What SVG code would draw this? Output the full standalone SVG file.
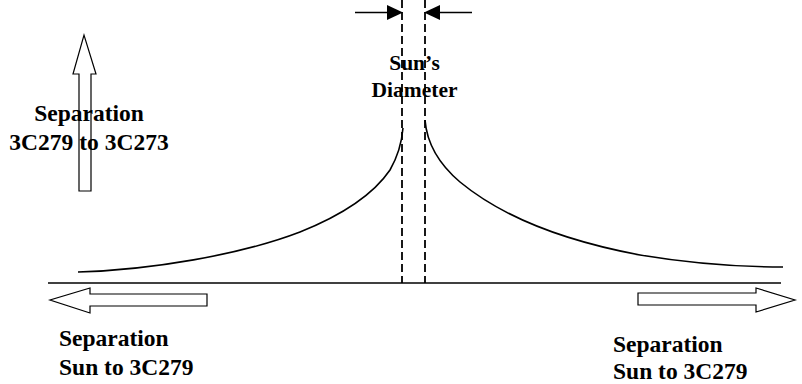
<svg xmlns="http://www.w3.org/2000/svg" width="802" height="384" viewBox="0 0 802 384">
<style>
.lbl{font-family:"Liberation Serif","Times New Roman",serif;font-weight:bold;font-size:23.5px;fill:#000}
.sm{font-size:21.5px}
.ln{fill:none;stroke:#000;stroke-width:1.6}
.dash{fill:none;stroke:#000;stroke-width:1.8;stroke-dasharray:8 4}
.hollow{fill:#fff;stroke:#000;stroke-width:1.2}
</style>
<g id="axis">
<line class="ln" x1="48" y1="283" x2="781" y2="283"/>
</g>
<g id="sun-diameter">
<line class="dash" x1="402" y1="0" x2="402" y2="283"/>
<line class="dash" x1="425" y1="0" x2="425" y2="283"/>
<line class="ln" x1="355" y1="12.5" x2="390" y2="12.5" stroke-width="1.2"/>
<polygon points="387,5 403,12.5 387,20" fill="#000"/>
<line class="ln" x1="437" y1="12.5" x2="472" y2="12.5" stroke-width="1.2"/>
<polygon points="440,5 424,12.5 440,20" fill="#000"/>
<text class="lbl sm" x="414.5" y="70" text-anchor="middle">Sun’s</text>
<text class="lbl sm" x="414.5" y="97" text-anchor="middle">Diameter</text>
</g>
<g id="curves">
<path class="ln" d="M78,272 C150,270 240,255 300,232 C345,214 375,192 390,170 C398,156 402,140 403,128"/>
<path class="ln" d="M425,120 C427,145 440,165 460,182 C500,215 560,240 640,255 C700,265 750,267 783,267"/>
</g>
<g id="up-arrow">
<polygon class="hollow" points="79,191 79,74 73,74 84,35 96,74 91,74 91,191"/>
<text class="lbl" x="89" y="121" text-anchor="middle">Separation</text>
<text class="lbl" x="89" y="150" text-anchor="middle">3C279 to 3C273</text>
</g>
<g id="left-arrow">
<polygon class="hollow" points="207,294 90,294 90,288 50,300 90,313 90,306 207,306"/>
<text class="lbl" x="59" y="346">Separation</text>
<text class="lbl" x="59" y="375">Sun to 3C279</text>
</g>
<g id="right-arrow">
<polygon class="hollow" points="638,293 756,293 756,288 795,300 756,312 756,305 638,305"/>
<text class="lbl" x="613" y="352">Separation</text>
<text class="lbl" x="613" y="379">Sun to 3C279</text>
</g>
</svg>
